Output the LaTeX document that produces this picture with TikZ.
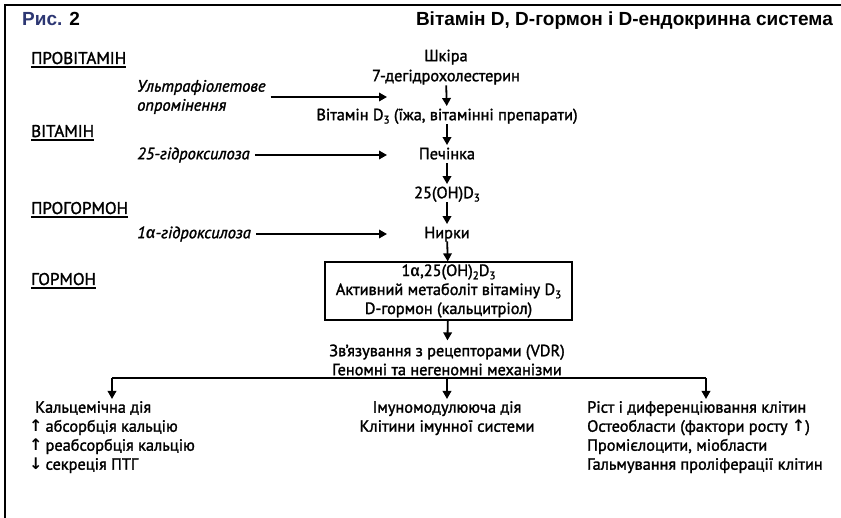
\documentclass[tikz,border=0pt]{standalone}
\usepackage{fontspec}
\setmainfont{PT Sans}[FakeBold=1.6]
\newfontfamily\titlef{Liberation Sans}
\newfontfamily\symf{DejaVu Sans}
\newfontfamily\grf{Fira Sans Medium}
\usetikzlibrary{arrows.meta}
\definecolor{navy}{RGB}{45,55,115}
\newcommand{\sbs}[1]{\raisebox{-0.4ex}{\fontsize{11}{11}\selectfont #1}}
\newcommand{\alp}{{\grf α}}
\newcommand{\upar}{{\symf\bfseries\fontsize{16}{16}\selectfont ↑}}
\newcommand{\dnar}{{\symf\bfseries\fontsize{16}{16}\selectfont ↓}}
\begin{document}
\begin{tikzpicture}[x=1pt,y=-1pt,
  font=\fontsize{16.3}{19}\selectfont,
  txt/.style={inner sep=0pt, text height=11.5pt, text depth=3pt},
  cat/.style={inner sep=0pt, anchor=base west, font=\fontsize{17}{19}\selectfont},
  ital/.style={inner sep=0pt, anchor=west, font=\fontsize{16.5}{19}\selectfont\itshape, align=left},
  arr/.style={line width=1.8pt, -{Triangle[length=8pt,width=8.5pt]}},
  bar/.style={line width=1.8pt},
  ulin/.style={line width=1.8pt},
  hbox/.style={draw, line width=1.2pt, minimum width=247pt, minimum height=58pt, align=center, inner sep=0pt}]
\useasboundingbox (0,0) rectangle (841,518);
% frame
\draw[line width=1.6pt] (5,518) -- (5,5) -- (841,5);
% title
\node[inner sep=0pt, anchor=base west, font=\titlef\bfseries\fontsize{19}{19}\selectfont] (fig) at (22,26) {\textcolor{navy}{Рис.} 2};
\node[inner sep=0pt, anchor=base east, font=\titlef\bfseries\fontsize{19}{19}\selectfont] (title) at (833,26) {Вітамін D, D-гормон і D-ендокринна система};
% categories
\node[cat] (c1) at (31,64) {ПРОВІТАМІН};
\node[cat] (c2) at (31,137) {ВІТАМІН};
\node[cat] (c3) at (31,214) {ПРОГОРМОН};
\node[cat] (c4) at (31,285) {ГОРМОН};
\foreach \c in {c1,c2,c3,c4}{
  \draw[ulin] ([yshift=-3pt]\c.base west) -- ([yshift=-3pt]\c.base east);
}
% chain
\node[txt] (skin) at (446,57) {Шкіра};
\node[txt] (dhc) at (446,77) {7-дегідрохолестерин};
\node[txt] (vitd) at (447,116) {Вітамін D\sbs{3} (їжа, вітамінні препарати)};
\node[txt] (liver) at (447,155) {Печінка};
\node[txt] (ohd) at (447,194) {25(OH)D\sbs{3}};
\node[txt] (kid) at (447,234) {Нирки};
\node[hbox] (hormone) at (448.5,291) {1\alp,25(OH)\sbs{2}D\sbs{3}\\Активний метаболіт вітаміну D\sbs{3}\\D-гормон (кальцитріол)};
\node[inner sep=0pt, align=center] (bind) at (447,360) {Зв’язування з рецепторами (VDR)\\Геномні та негеномні механізми};
\draw[arr, shorten <=1pt, shorten >=2.5pt] (dhc) -- (vitd);
\draw[arr, shorten <=1pt, shorten >=2.5pt] (vitd) -- (liver);
\draw[arr, shorten <=1pt, shorten >=2.5pt] (liver) -- (ohd);
\draw[arr, shorten <=1pt, shorten >=2.5pt] (ohd) -- (kid);
\draw[arr, shorten <=0pt] (kid) -- (hormone);
\draw[arr, shorten >=4pt] (hormone) -- (bind);
% enzymes
\node[ital] (uv) at (137,97) {Ультрафіолетове\\опромінення};
\node[ital] (h25) at (137,155) {25-гідроксилоза};
\node[ital] (h1) at (137,234) {1\alp-гідроксилоза};
\coordinate (uvend) at (387,97);
\coordinate (h25end) at (387,155);
\coordinate (h1end) at (387,234);
\draw[arr] ([xshift=5pt]uv.east) -- (uvend);
\draw[arr] ([xshift=5pt]h25.east) -- (h25end);
\draw[arr] ([xshift=5pt]h1.east) -- (h1end);
% effects
\node[inner sep=0pt, anchor=north west, align=left] (calc) at (29,401) {\hspace{6pt}Кальцемічна дія\\\upar\hspace{3pt}абсорбція кальцію\\\upar\hspace{3pt}реабсорбція кальцію\\\dnar\hspace{3pt}секреція ПТГ};
\node[inner sep=0pt, anchor=north, align=center] (imm) at (447,401) {Імуномодулююча дія\\Клітини імунної системи};
\node[inner sep=0pt, anchor=north west, align=left] (grow) at (587,401) {Ріст і диференціювання клітин\\Остеобласти (фактори росту \upar)\\Промієлоцити, міобласти\\Гальмування проліферації клітин};
\coordinate (bl) at (112,378);
\coordinate (bm) at (447,378);
\coordinate (br) at (706,378);
\draw[bar] (bl) -- (br);
\draw[arr, shorten >=2pt] (bl) -- (bl |- calc.north);
\draw[arr, shorten >=2pt] (bm) -- (imm.north);
\draw[arr, shorten >=2pt] (br) -- (br |- grow.north);
\end{tikzpicture}
\end{document}
